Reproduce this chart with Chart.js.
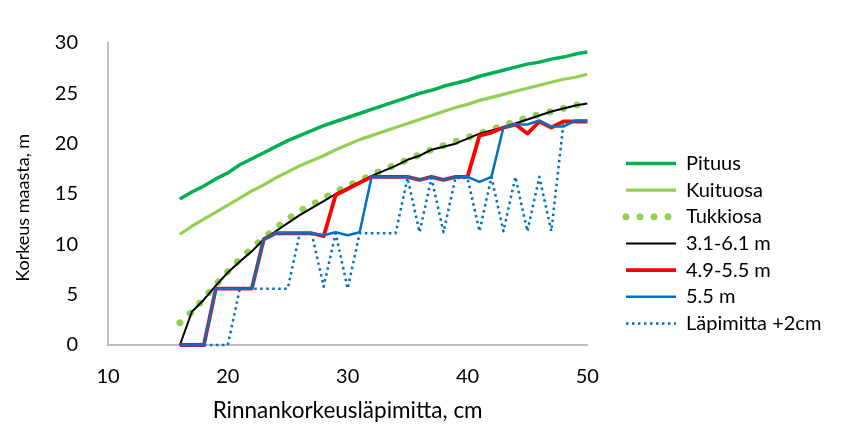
<!DOCTYPE html>
<html><head><meta charset="utf-8">
<script src="https://cdn.jsdelivr.net/npm/chart.js@4.4.1/dist/chart.umd.min.js"></script>
<style>html,body{margin:0;padding:0;background:#fff}</style>
</head><body>
<canvas id="c" width="855" height="444"></canvas>
<script>
const diameters = [16,17,18,19,20,21,22,23,24,25,26,27,28,29,30,31,32,33,34,35,36,37,38,39,40,41,42,43,44,45,46,47,48,49,50];
const pituus    = [14.5,15.2,15.8,16.5,17.1,17.9,18.5,19.1,19.7,20.3,20.8,21.3,21.8,22.2,22.6,23.0,23.4,23.8,24.2,24.6,25.0,25.3,25.7,26.0,26.3,26.7,27.0,27.3,27.6,27.9,28.1,28.4,28.6,28.9,29.1];
const kuituosa  = [11.0,11.8,12.5,13.2,13.9,14.6,15.3,15.9,16.6,17.2,17.8,18.3,18.8,19.4,19.9,20.4,20.8,21.2,21.6,22.0,22.4,22.8,23.2,23.6,23.9,24.3,24.6,24.9,25.2,25.5,25.8,26.1,26.4,26.6,26.9];
const tukkiosa  = [2.2,3.3,4.6,6.0,7.3,8.5,9.6,10.6,11.6,12.5,13.3,13.9,14.6,15.2,15.8,16.3,16.9,17.4,17.9,18.4,18.9,19.4,19.8,20.2,20.6,21.0,21.4,21.8,22.2,22.6,22.9,23.2,23.5,23.8,24.1];
const s31_61    = [0,3.3,4.5,5.9,7.2,8.3,9.3,10.5,11.3,12.1,12.9,13.6,14.3,15.0,15.6,16.2,16.8,17.3,17.8,18.4,18.8,19.4,19.7,20.0,20.5,21.0,21.3,21.6,22.0,22.4,22.8,23.2,23.5,23.8,24.0];
const s49_55    = [0,0,0,5.6,5.6,5.6,5.6,10.5,11.1,11.1,11.1,11.1,10.8,14.9,15.5,16.1,16.7,16.7,16.7,16.7,16.4,16.7,16.4,16.7,16.7,20.8,21.1,21.6,21.9,21.0,22.2,21.6,22.2,22.2,22.2];
const s55       = [0,0,0,5.6,5.6,5.6,5.6,10.5,11.1,11.1,11.1,11.1,10.9,11.2,10.9,11.2,16.7,16.7,16.7,16.7,16.4,16.7,16.4,16.7,16.7,16.2,16.7,21.6,21.9,21.9,22.3,21.7,21.7,22.3,22.3];
const lapimitta = [0,0,0,0,0,5.6,5.6,5.6,5.6,5.6,11.1,11.1,5.8,11.1,5.6,11.1,11.1,11.1,11.1,16.6,11.2,16.6,11.2,16.6,16.6,11.3,16.7,11.3,16.7,11.3,16.7,11.3,21.9,22.2,22.2];

const seriesNames = ['Pituus','Kuituosa','Tukkiosa','3.1-6.1 m','4.9-5.5 m','5.5 m','Läpimitta +2cm'];
const xTicks = [10,20,30,40,50];
const yTicks = [0,5,10,15,20,25,30];

const pts = arr => arr.map((v,i)=>({x: diameters[i], y: v}));
const FONT = 'Lato';
const LEG_FONT = 20, LEG_PAD = 6.67, LEG_BOX = 50;

// layout: compute legend width so the legend starts where the reference's does
const mctx = document.createElement('canvas').getContext('2d');
mctx.font = LEG_FONT + 'px ' + FONT;
const textW = Math.max(...seriesNames.map(n => mctx.measureText(n).width));
const legendW = LEG_PAD + LEG_BOX + LEG_FONT/2 + textW + 10;
const legendLeft = 619.3;
const padRight = Math.max(0, 855 - legendLeft - legendW);

const datasets = [
  {label: seriesNames[6], data: pts(lapimitta), borderColor:'#0070C0', borderWidth:2.5, borderDash:[2.5,3.5], borderCapStyle:'butt'},
  {label: seriesNames[5], data: pts(s55), borderColor:'#0070C0', borderWidth:2.5},
  {label: seriesNames[4], data: pts(s49_55), borderColor:'#FF0000', borderWidth:3.8},
  {label: seriesNames[3], data: pts(s31_61), borderColor:'#000000', borderWidth:2},
  {label: seriesNames[2], data: pts(tukkiosa), borderColor:'#92D050', borderWidth:7, borderDash:[0.01,14], borderCapStyle:'round'},
  {label: seriesNames[1], data: pts(kuituosa), borderColor:'#92D050', borderWidth:3.2},
  {label: seriesNames[0], data: pts(pituus), borderColor:'#00B050', borderWidth:3.5}
].map(d => Object.assign({pointRadius:0, pointHoverRadius:0, tension:0, fill:false, clip:false, backgroundColor:d.borderColor, borderJoinStyle:'round', pointStyle:'line'}, d));

new Chart(document.getElementById('c'), {
  type: 'line',
  data: {datasets},
  options: {
    responsive:false, animation:false, devicePixelRatio:1,
    layout:{padding:{top:43,right:padRight,bottom:0,left:0}},
    plugins:{
      tooltip:{enabled:false},
      legend:{
        position:'right', reverse:true, maxWidth:400,
        labels:{
          usePointStyle:true, pointStyleWidth:LEG_BOX, boxHeight:LEG_FONT, padding:LEG_PAD,
          color:'#000', font:{family:FONT, size:LEG_FONT},
          generateLabels(chart){
            return chart.data.datasets.map((ds,i)=>({
              text: ds.label, datasetIndex:i, hidden:false,
              fillStyle: ds.borderColor, strokeStyle: ds.borderColor,
              lineWidth: ds.borderWidth, lineDash: ds.borderDash || [],
              lineCap: ds.borderCapStyle || 'butt', pointStyle:'line', fontColor:'#000'
            }));
          }
        }
      }
    },
    scales:{
      x:{
        type:'linear', min:10, max:50,
        afterBuildTicks(s){ s.ticks = xTicks.map(v=>({value:v})); },
        ticks:{padding:20, color:'#000', font:{family:FONT, size:20}},
        grid:{display:false, drawTicks:false},
        border:{display:true, color:'#BFBFBF', width:2},
        title:{display:true, text:'Rinnankorkeusläpimitta, cm', color:'#000', font:{family:FONT, size:22.5}, padding:{top:0,bottom:19.5}},
        afterFit(s){ s.height = 99; }
      },
      y:{
        type:'linear', min:0, max:30,
        afterBuildTicks(s){ s.ticks = yTicks.map(v=>({value:v})); },
        ticks:{padding:30, color:'#000', font:{family:FONT, size:20}},
        grid:{display:false, drawTicks:false},
        border:{display:true, color:'#BFBFBF', width:2},
        title:{display:true, text:'Korkeus maasta, m\u00A0\u00A0\u00A0\u00A0\u00A0\u00A0', color:'#000', font:{family:FONT, size:18}, padding:{top:12,bottom:0}},
        afterFit(s){ s.width = 108; }
      },
      gap:{
        position:'right', display:true,
        grid:{display:false, drawTicks:false}, border:{display:false}, ticks:{display:false},
        afterFit(s){ s.width = 32; }
      }
    }
  }
});
</script>
</body></html>
